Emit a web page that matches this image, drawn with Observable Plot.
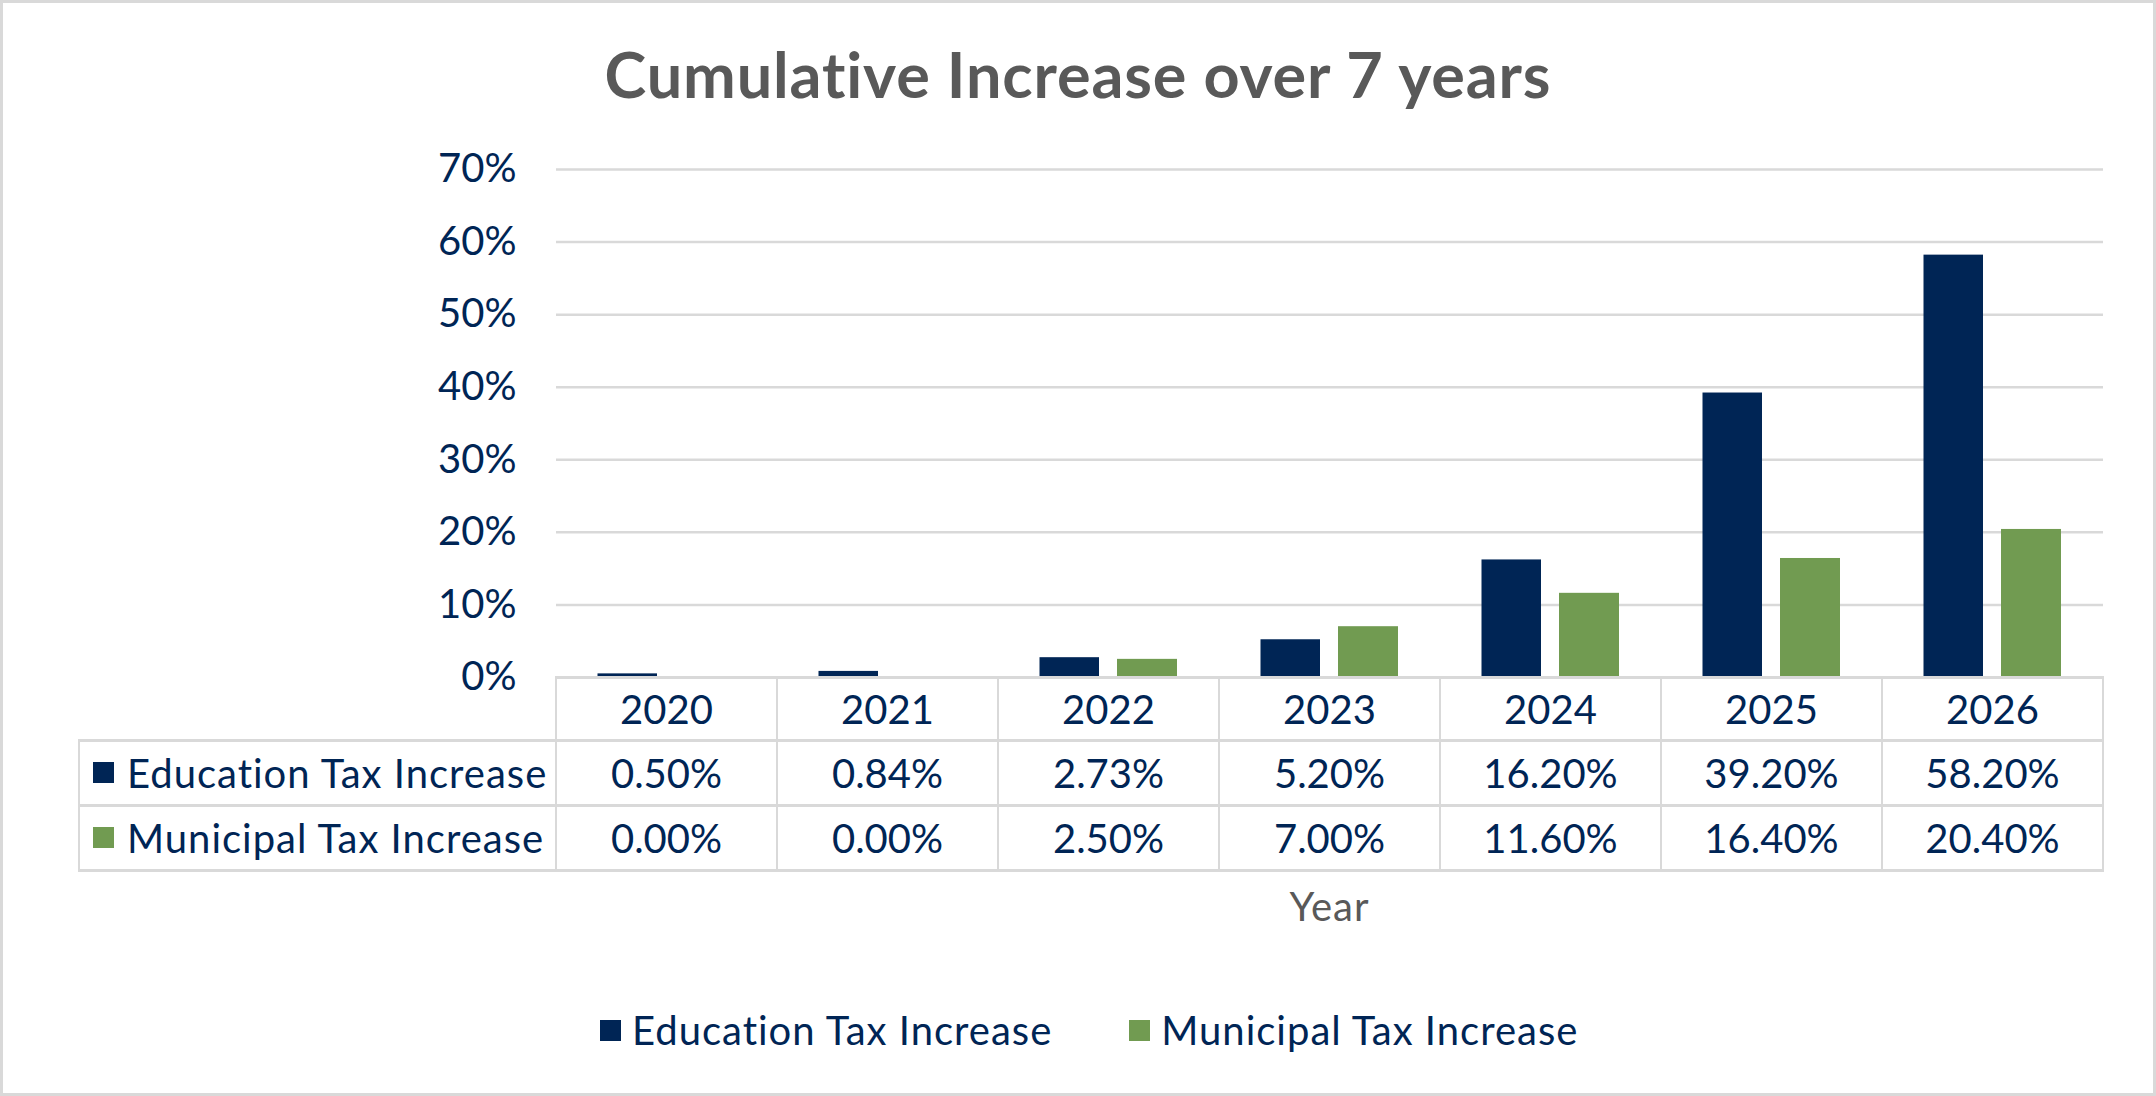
<!DOCTYPE html>
<html><head><meta charset="utf-8">
<script src="https://cdn.jsdelivr.net/npm/d3@7"></script>
<script src="https://cdn.jsdelivr.net/npm/@observablehq/plot@0.6"></script>
<style>
body{margin:0;background:#fff;}
#chart{position:relative;width:2156px;height:1096px;overflow:hidden;font-family:Lato, "Noto Sans", sans-serif;color:#002555;background:#fff}
#frame{position:absolute;left:0;top:0;width:2156px;height:1096px;box-sizing:border-box;border:3px solid #d9d9d9;pointer-events:none}
.abs{position:absolute}
#title{left:0;width:2156px;top:42px;text-align:center;font-size:63px;font-weight:700;color:#595959;line-height:63px;white-space:nowrap;letter-spacing:0.85px}
.cell{position:absolute;display:flex;align-items:center;justify-content:center;font-size:40px;line-height:40px;white-space:nowrap}
.lab{justify-content:flex-start}
.name{letter-spacing:1px}
.sw{width:21px;height:21px;display:inline-block;flex:none}
.hl,.vl{position:absolute;background:#d9d9d9}
#xlabel{font-size:40px;line-height:40px;color:#595959;text-align:center;white-space:nowrap;letter-spacing:1px}
#legend{position:absolute;display:flex;align-items:center;font-size:40px;line-height:40px;white-space:nowrap}
</style></head>
<body>
<div id="chart">
  <div id="title" class="abs">Cumulative Increase over 7 years</div>
  <div id="plotwrap" class="abs" style="left:0;top:130px"></div>
  <div id="table"></div>
  <div id="xlabel" class="abs">Year</div>
  <div id="legend"></div>
  <div id="frame"></div>
</div>
<script>
const years = ["2020", "2021", "2022", "2023", "2024", "2025", "2026"];
const educationTax = [0.50, 0.84, 2.73, 5.20, 16.20, 39.20, 58.20];
const municipalTax = [0.00, 0.00, 2.50, 7.00, 11.60, 16.40, 20.40];
const yTicks = [0, 10, 20, 30, 40, 50, 60, 70];
const seriesNames = ["Education Tax Increase", "Municipal Tax Increase"];
const seriesColors = ["#002555", "#719B51"];
const xTitle = "Year";

const rows = years.map((year, i) => ({year, education: educationTax[i], municipal: municipalTax[i]}));
const svgTop = 130;

const plot = Plot.plot({
  width: 2156,
  height: 567,
  marginTop: 39,
  marginBottom: 20,
  marginLeft: 556,
  marginRight: 53,
  style: {fontFamily: "Lato, 'Noto Sans', sans-serif", fontSize: "40px", color: "#002555", background: "transparent", overflow: "visible"},
  x: {domain: years, paddingInner: 0, paddingOuter: 0, axis: null},
  y: {domain: [0, 70]},
  marks: [
    Plot.ruleY(yTicks, {stroke: "#d9d9d9", strokeWidth: 2.5}),
    Plot.barY(rows, {x: "year", y: "education", fill: seriesColors[0], insetLeft: 41.5, insetRight: 120}),
    Plot.barY(rows, {x: "year", y: "municipal", fill: seriesColors[1], insetLeft: 119, insetRight: 42}),
    Plot.axisY(yTicks, {tickFormat: d => d + "%", tickSize: 0, tickPadding: 40, label: null, fill: "#002555"})
  ]
});
document.getElementById("plotwrap").appendChild(plot);

// Data table drawn from the plot's own scales
const xs = plot.scale("x");
const ys = plot.scale("y");
const bw = xs.bandwidth;
const top0 = svgTop + ys.apply(0);
const tableLeft = 79;
const rowH = [63, 65, 65];
const rowTops = [top0, top0 + rowH[0], top0 + rowH[0] + rowH[1]];
const tableBottom = top0 + rowH[0] + rowH[1] + rowH[2];
const colLeft = years.map(y => xs.apply(y));
const xEnd = colLeft[colLeft.length - 1] + bw;
const table = document.getElementById("table");

function hline(y, x1, x2, t) {
  const d = document.createElement("div"); d.className = "hl";
  Object.assign(d.style, {left: (x1 - 1) + "px", top: (y - t / 2) + "px", width: (x2 - x1 + 2) + "px", height: t + "px"});
  table.appendChild(d);
}
function vline(x, y1, y2, t) {
  const d = document.createElement("div"); d.className = "vl";
  Object.assign(d.style, {left: (x - t / 2) + "px", top: (y1 - 1) + "px", width: t + "px", height: (y2 - y1 + 2) + "px"});
  table.appendChild(d);
}
function cell(x, y, w, h, html, cls) {
  const d = document.createElement("div"); d.className = "cell" + (cls ? " " + cls : "");
  Object.assign(d.style, {left: x + "px", top: y + "px", width: w + "px", height: h + "px"});
  d.innerHTML = html;
  table.appendChild(d);
}
hline(top0, colLeft[0], xEnd, 3);
hline(rowTops[1], tableLeft, xEnd, 3);
hline(rowTops[2], tableLeft, xEnd, 3);
hline(tableBottom, tableLeft, xEnd, 3);
vline(tableLeft, rowTops[1], tableBottom, 2.5);
colLeft.concat([xEnd]).forEach(x => vline(x, top0, tableBottom, 2.5));

const fmt = v => v.toFixed(2) + "%";
years.forEach((y, i) => {
  cell(colLeft[i], rowTops[0], bw, rowH[0], y);
  cell(colLeft[i], rowTops[1], bw, rowH[1], fmt(educationTax[i]));
  cell(colLeft[i], rowTops[2], bw, rowH[2], fmt(municipalTax[i]));
});
seriesNames.forEach((name, k) => {
  cell(tableLeft + 14, rowTops[k + 1], colLeft[0] - tableLeft - 14, rowH[k + 1],
    `<span class="sw" style="background:${seriesColors[k]};margin-right:13px"></span><span class="name">${name}</span>`, "lab");
});

// Axis title
const xl = document.getElementById("xlabel");
xl.textContent = xTitle;
const plotCenter = (colLeft[0] + xEnd) / 2;
Object.assign(xl.style, {left: (plotCenter - 200) + "px", width: "400px", top: (907 - 21) + "px"});

// Legend
const lg = document.getElementById("legend");
Object.assign(lg.style, {left: "600px", top: "1009px", height: "42px"});
lg.innerHTML = seriesNames.map((n, k) =>
  `<span class="sw" style="background:${seriesColors[k]};margin-right:11px"></span><span class="name" style="margin-right:${k === 0 ? 77 : 0}px">${n}</span>`).join("");
</script>
</body></html>
